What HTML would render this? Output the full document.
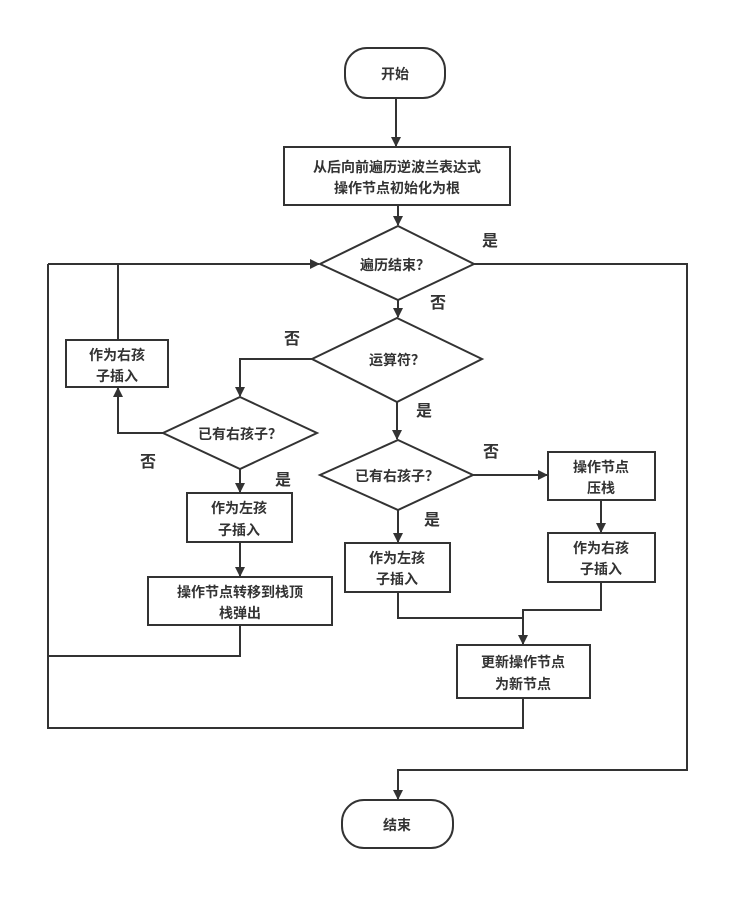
<!DOCTYPE html>
<html><head><meta charset="utf-8"><style>
html,body{margin:0;padding:0;background:#fff;}
svg text{font-family:"Liberation Sans","Noto Sans CJK SC",sans-serif;font-weight:bold;fill:#333;}
</style></head><body>
<svg width="748" height="907" viewBox="0 0 748 907" xmlns="http://www.w3.org/2000/svg">
<defs><marker id="a" markerWidth="10" markerHeight="10" refX="9" refY="5" orient="auto" markerUnits="userSpaceOnUse"><path d="M0,0 L10,5 L0,10 z" fill="#333"/></marker></defs>
<g stroke="#333" stroke-width="2" fill="none">
<rect x="345" y="48" width="100" height="50" rx="22" fill="#fff"/>
<rect x="284" y="147" width="226" height="58" fill="#fff"/>
<polygon points="398,226 474,264 398,300 320,264" fill="#fff"/>
<rect x="66" y="340" width="102" height="47" fill="#fff"/>
<polygon points="397,318 482,359 397,402 312,359" fill="#fff"/>
<polygon points="240,397 317,433 240,469 163,433" fill="#fff"/>
<rect x="187" y="493" width="105" height="49" fill="#fff"/>
<rect x="148" y="577" width="184" height="48" fill="#fff"/>
<polygon points="398,440 473,475 398,510 320,475" fill="#fff"/>
<rect x="548" y="452" width="107" height="48" fill="#fff"/>
<rect x="548" y="533" width="107" height="49" fill="#fff"/>
<rect x="345" y="543" width="105" height="49" fill="#fff"/>
<rect x="457" y="645" width="133" height="53" fill="#fff"/>
<rect x="342" y="800" width="111" height="48" rx="22" fill="#fff"/>
<path d="M396,98 V146" marker-end="url(#a)"/>
<path d="M398,205 V225" marker-end="url(#a)"/>
<path d="M398,300 V317" marker-end="url(#a)"/>
<path d="M312,359 H240 V396" marker-end="url(#a)"/>
<path d="M163,433 H118 V388" marker-end="url(#a)"/>
<path d="M118,340 V264"/>
<path d="M48,264 H319" marker-end="url(#a)"/>
<path d="M240,469 V492" marker-end="url(#a)"/>
<path d="M240,542 V576" marker-end="url(#a)"/>
<path d="M240,625 V656 H48"/>
<path d="M48,264 V728 H523 V698"/>
<path d="M397,402 V439" marker-end="url(#a)"/>
<path d="M473,475 H547" marker-end="url(#a)"/>
<path d="M601,500 V532" marker-end="url(#a)"/>
<path d="M398,510 V542" marker-end="url(#a)"/>
<path d="M398,592 V618 H523"/>
<path d="M601,582 V610 H523 V644" marker-end="url(#a)"/>
<path d="M474,264 H687 V770 H398 V799" marker-end="url(#a)"/>
</g>
<g font-size="14" text-anchor="middle">
<text x="395" y="79">开始</text>
<text x="397" y="172">从后向前遍历逆波兰表达式</text>
<text x="397" y="193">操作节点初始化为根</text>
<text x="395" y="270">遍历结束？</text>
<text x="117" y="360">作为右孩</text>
<text x="117" y="381">子插入</text>
<text x="397" y="365">运算符？</text>
<text x="240" y="439">已有右孩子？</text>
<text x="239" y="513">作为左孩</text>
<text x="239" y="535">子插入</text>
<text x="240" y="597">操作节点转移到栈顶</text>
<text x="240" y="618">栈弹出</text>
<text x="397" y="481">已有右孩子？</text>
<text x="601" y="472">操作节点</text>
<text x="601" y="493">压栈</text>
<text x="601" y="553">作为右孩</text>
<text x="601" y="574">子插入</text>
<text x="397" y="563">作为左孩</text>
<text x="397" y="584">子插入</text>
<text x="523" y="667">更新操作节点</text>
<text x="523" y="689">为新节点</text>
<text x="397" y="830">结束</text>
</g>
<g font-size="16" text-anchor="middle">
<text x="490" y="246">是</text>
<text x="438" y="308">否</text>
<text x="292" y="344">否</text>
<text x="424" y="416">是</text>
<text x="148" y="467">否</text>
<text x="283" y="485">是</text>
<text x="491" y="457">否</text>
<text x="432" y="525">是</text>
</g>
</svg>
</body></html>
